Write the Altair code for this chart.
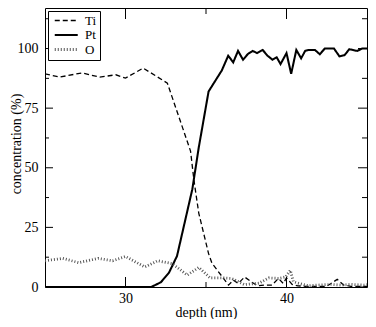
import altair as alt
import pandas as pd

# ---- data ----
ti_x = [25.0, 25.9, 27.3, 28.4, 29.4, 30.0, 31.1, 32.6, 34.04, 34.25, 34.55, 35.16, 35.37, 36.4,
        36.7, 37.0, 37.4, 37.8, 38.2, 38.6, 39.1, 39.5, 39.8, 40.0, 40.35, 40.7, 41.2, 41.8,
        42.5, 43.15, 43.55, 44.0, 44.5, 45.0]
ti_y = [89.4, 88.0, 89.8, 88.0, 89.0, 87.6, 91.8, 85.5, 57.0, 44.8, 31.0, 14.0, 10.0, 0.8,
        2.9, 1.5, 4.2, 2.2, 0.5, 0.8, 0.8, 3.6, 1.5, 3.8, 1.1, 0.5, 0.3, 0.3,
        0.3, 3.2, 0.8, 0.3, 0.3, 0.3]

pt_x = [25.0, 31.6, 32.2, 32.7, 33.2, 34.15, 34.55, 35.16, 35.98, 36.38, 36.69, 36.99, 37.3,
        37.6, 37.9, 38.17, 38.52, 38.82, 39.13, 39.39, 39.63, 40.0, 40.29, 40.61, 40.91, 41.16,
        41.36, 41.77, 42.07, 42.38, 42.95, 43.29, 43.6, 43.9, 44.4, 44.7, 45.0]
pt_y = [0.0, 0.0, 2.0, 6.0, 13.0, 41.0, 58.5, 82.0, 90.8, 97.0, 94.2, 99.0, 95.3,
        97.7, 99.0, 98.1, 99.4, 97.0, 95.3, 96.3, 93.5, 98.1, 89.4, 99.4, 95.9, 99.0,
        99.4, 99.4, 97.6, 100.0, 100.0, 96.7, 97.2, 99.7, 99.0, 100.0, 100.0]

o_x = [25.0, 26.1, 27.1, 28.3, 29.2, 30.0, 31.2, 32.0, 32.9, 33.84, 34.55, 35.26, 36.08, 36.59,
       37.38, 38.29, 38.9, 39.5, 39.94, 40.24, 40.43, 40.73, 41.34, 41.95, 42.79, 43.4, 44.0,
       44.8, 45.0]
o_y = [11.0, 12.0, 10.2, 12.0, 11.0, 12.8, 8.4, 11.0, 9.8, 5.0, 8.2, 3.8, 3.8, 3.6,
       1.0, 1.6, 3.8, 3.6, 4.2, 7.0, 2.2, 1.6, 0.5, 0.8, 1.1, 0.8, 1.1,
       0.8, 1.0]

series = ["Ti", "Pt", "O"]
x_major = [30, 40]
x_minor = [35]
y_major = [0, 25, 50, 75, 100]
y_minor = [12.5, 37.5, 62.5, 87.5, 112.5]

rows = []
for name, xs_, ys_ in [("Ti", ti_x, ti_y), ("Pt", pt_x, pt_y), ("O", o_x, o_y)]:
    for i, (a, b) in enumerate(zip(xs_, ys_)):
        rows.append({"depth": a, "conc": b, "series": name, "order": i})
df = pd.DataFrame(rows)

W, H = 322, 279
FONT = "Liberation Serif, Times New Roman, serif"
xs = alt.Scale(domain=[25, 45], nice=False, zero=False)
ys = alt.Scale(domain=[0, 117], nice=False, zero=False)

x_axis = alt.Axis(title="depth (nm)", values=x_major, ticks=False, domain=False, grid=False,
                  labelFont=FONT, labelFontSize=14, labelPadding=4, labelColor="black",
                  titleFont=FONT, titleFontSize=14, titleFontWeight="normal",
                  titleColor="black", titleY=18, titleBaseline="top")
y_axis = alt.Axis(title="concentration (%)", values=y_major, ticks=False, domain=False,
                  grid=False, labelFont=FONT, labelFontSize=14, labelPadding=7,
                  labelColor="black", titleFont=FONT, titleFontSize=14,
                  titleFontWeight="normal", titleColor="black", titleX=-29,
                  titleY=H / 2 - 4, titleBaseline="middle", titleAngle=-90)

leg = dict(title=None, orient="none", legendX=3, legendY=3,
           symbolType="M-1,0H3", symbolSize=132,
           labelFont=FONT, labelFontSize=13, labelColor="black",
           labelOffset=17, strokeColor="black", fillColor="white", padding=3,
           rowPadding=-1, cornerRadius=0, symbolOffset=2,
           labelExpr="datum.label + '\u00a0\u00a0\u00a0\u00a0'")

lines = alt.Chart(df).mark_line(clip=True).encode(
    x=alt.X("depth:Q", scale=xs, axis=x_axis),
    y=alt.Y("conc:Q", scale=ys, axis=y_axis),
    color=alt.Color("series:N", scale=alt.Scale(domain=series,
                                                range=["black", "black", "#555555"]),
                    legend=alt.Legend(**leg)),
    strokeDash=alt.StrokeDash("series:N",
                              scale=alt.Scale(domain=series, range=[[5, 3], [1, 0], [1, 2]]),
                              legend=alt.Legend(**leg)),
    strokeWidth=alt.StrokeWidth("series:N",
                                scale=alt.Scale(domain=series, range=[1.3, 2.8, 0.8]),
                                legend=alt.Legend(**leg)),
    order="order:Q",
)

ymaj = pd.DataFrame({"v": y_major})
ymin = pd.DataFrame({"v": y_minor})
xmaj = pd.DataFrame({"v": x_major})
xmin = pd.DataFrame({"v": x_minor})

def yticks(d, x0, x1):
    return alt.Chart(d).mark_rule(color="black", strokeWidth=1).encode(
        y=alt.Y("v:Q", scale=ys, axis=y_axis), x=alt.value(x0), x2=alt.value(x1))

def xticks(d, y0, y1):
    return alt.Chart(d).mark_rule(color="black", strokeWidth=1).encode(
        x=alt.X("v:Q", scale=xs, axis=x_axis), y=alt.value(y0), y2=alt.value(y1))

chart = alt.layer(
    lines,
    yticks(ymaj, 0, 8), yticks(ymin, 0, 4),
    yticks(ymaj, W, W - 9), yticks(ymin, W, W - 5),
    xticks(xmaj, H, H - 10), xticks(xmin, H, H - 5),
    xticks(xmaj, 0, 11), xticks(xmin, 0, 6),
).properties(
    width=W, height=H,
    background="white",
    autosize=alt.AutoSizeParams(type="none"),
    padding={"left": 37, "top": 0, "right": 1, "bottom": 32},
).configure_view(stroke="black", strokeWidth=1)

chart.save("out.html", embed_options={"renderer": "svg", "actions": False})
